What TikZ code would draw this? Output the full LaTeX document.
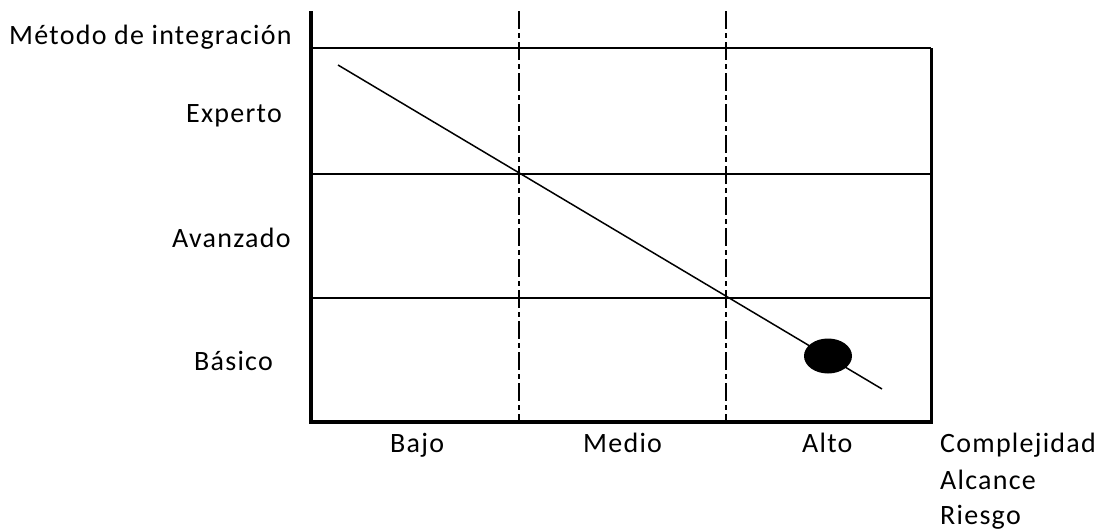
\documentclass[tikz,border=0pt]{standalone}
\usepackage{fontspec}
\usetikzlibrary{shapes.geometric}
\setmainfont{Carlito}[LetterSpace=4.5]
\begin{document}
\begin{tikzpicture}[x=1pt,y=-1pt,
  lbl/.style={font=\fontsize{28}{32}\selectfont, inner sep=0pt, anchor=base west},
  axis/.style={line width=4pt},
  grid/.style={line width=2pt},
  dd/.style={line width=2.5pt, dash pattern=on 18pt off 4pt on 5pt off 4pt},
  diag/.style={line width=1.5pt}]
\useasboundingbox (0,0) rectangle (1096,531);
% frame coordinates
\coordinate (tl) at (311,48);
\coordinate (tr) at (931,48);
\coordinate (br) at (931,422);
\coordinate (axtop) at (311,11);
\coordinate (orig) at (311,422);
\coordinate (h1l) at (311,174);
\coordinate (h1r) at (931,174);
\coordinate (h2l) at (311,298);
\coordinate (h2r) at (931,298);
\coordinate (v1t) at (519,11);
\coordinate (v1b) at (519,422);
\coordinate (v2t) at (726,11);
\coordinate (v2b) at (726,422);
\coordinate (ds) at (338,65);
\coordinate (de) at (882,389);
% grid lines
\draw[grid] (tl) -- (tr);
\draw[grid] (h1l) -- (h1r);
\draw[grid] (h2l) -- (h2r);
\draw[line width=3pt] (tr) -- (br);
\draw[dd] (v1t) -- (v1b);
\draw[dd] (v2t) -- (v2b);
\draw[axis] (axtop) -- (orig) -- ([xshift=1.5pt]br);
% diagonal
\draw[diag] (ds) -- (de);
\node[ellipse, fill=black, minimum width=48pt, minimum height=35pt, inner sep=0pt] (dot) at (828,356) {};
% labels
\node[lbl] (title) at (9,44) {Método de integración};
\node[lbl] (exp) at (186,122) {Experto};
\node[lbl] (ava) at (172,247) {Avanzado};
\node[lbl] (bas) at (194,370) {Básico};
\node[lbl] (bajo) at (390,452) {Bajo};
\node[lbl] (medio) at (583,452) {Medio};
\node[lbl] (alto) at (802,452) {Alto};
\node[lbl] (comp) at (940,452) {Complejidad};
\node[lbl] (alc) at (940,489) {Alcance};
\node[lbl] (ries) at (940,524) {Riesgo};
\end{tikzpicture}
\end{document}
